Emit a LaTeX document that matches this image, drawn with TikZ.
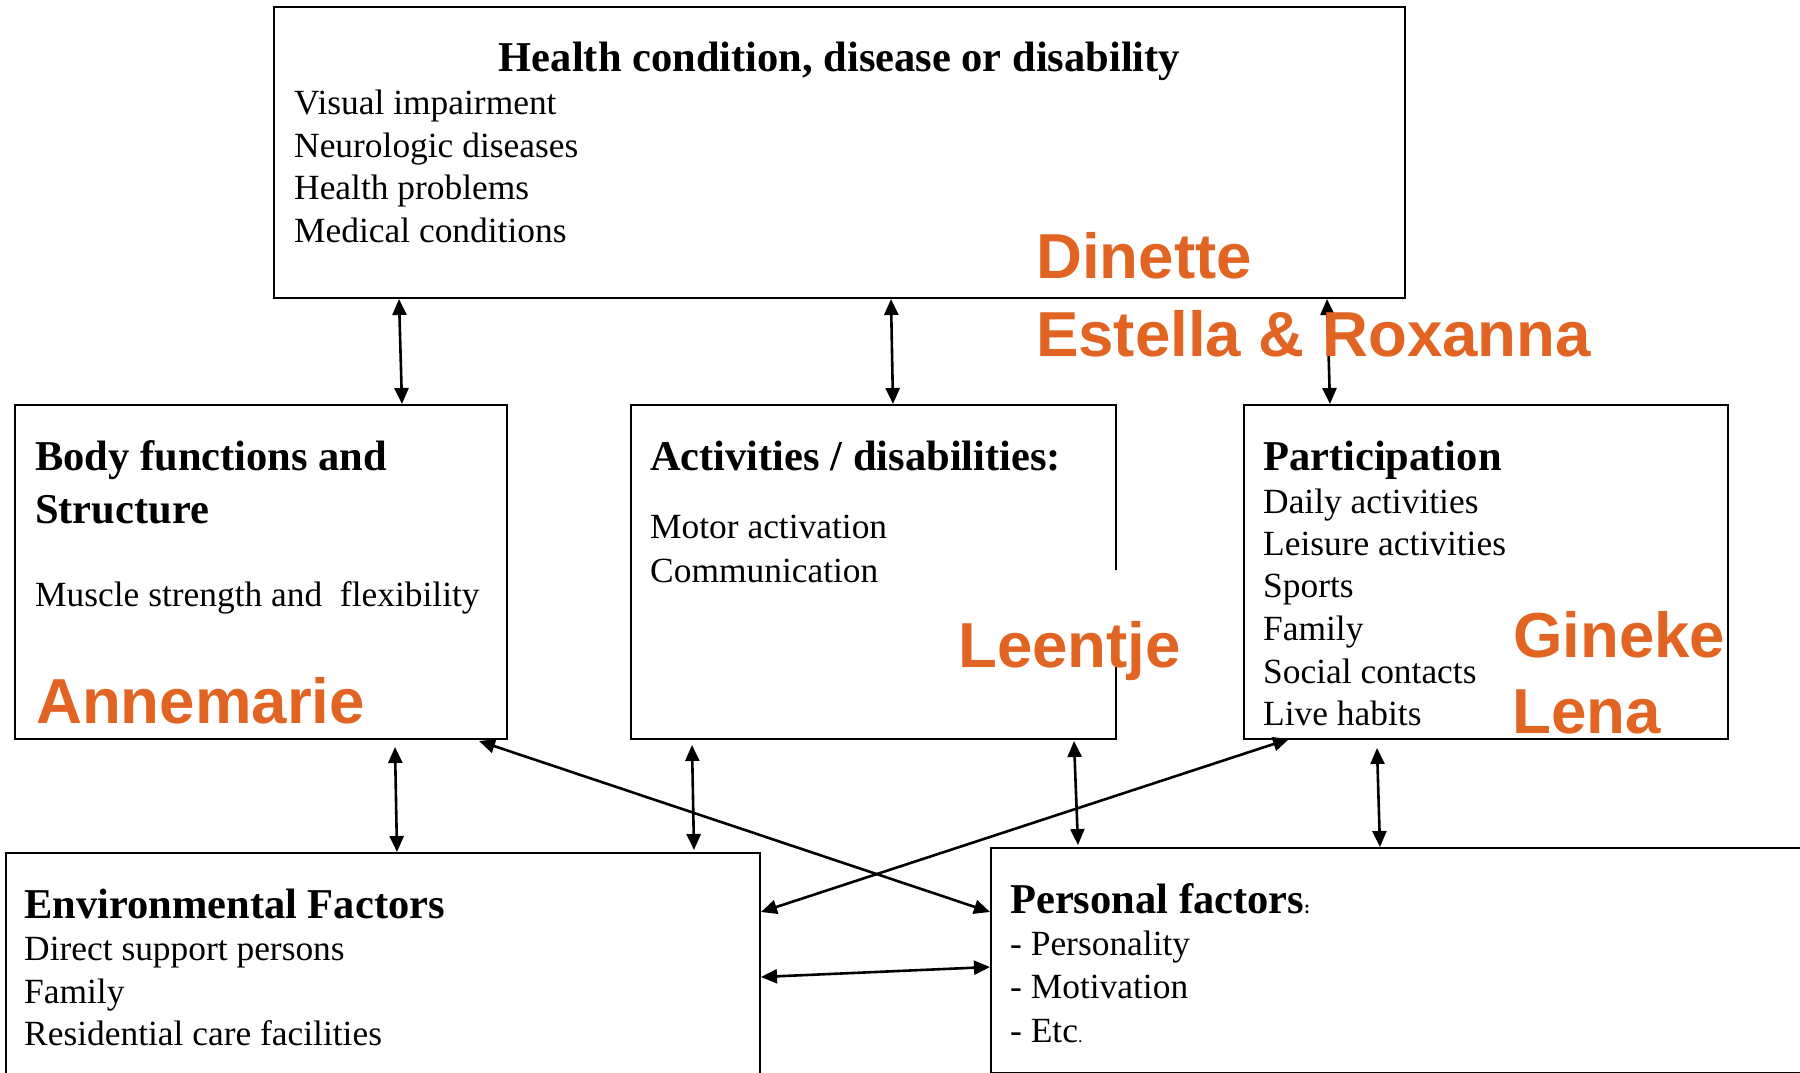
\documentclass[tikz,border=0pt]{standalone}
\usepackage{fontspec}
\setmainfont{Liberation Serif}
\newfontfamily\sansf{Liberation Sans}
\usetikzlibrary{arrows.meta}
\definecolor{orng}{RGB}{225,100,35}
\begin{document}
\begin{tikzpicture}[x=1pt,y=-1pt,
  >={Triangle[length=16pt,width=14pt]},
  box/.style={draw=black, line width=2pt, rectangle, inner sep=0pt, anchor=north west},
  biarr/.style={<->, line width=2.6pt},
  txt/.style={anchor=base west, inner sep=0pt, font=\fontsize{35.4}{42.5}\selectfont},
  ttl/.style={anchor=base west, inner sep=0pt, font=\fontsize{42.5}{51}\selectfont\bfseries},
  nm/.style={anchor=base west, inner sep=0pt, text=orng, font=\fontsize{63.6}{77}\selectfont\sansf\bfseries}]
\useasboundingbox (0,0) rectangle (1800,1073);

% boxes
\node[box, minimum width=1131pt, minimum height=291pt] (top) at (273,6) {};
\node[box, minimum width=492pt, minimum height=334pt] (body) at (14,404) {};
\node[box, minimum width=485pt, minimum height=334pt] (act) at (630,404) {};
\node[box, minimum width=484pt, minimum height=334pt] (part) at (1243,404) {};
\node[box, minimum width=754pt, minimum height=260pt] (env) at (5,852) {};
\node[box, minimum width=900pt, minimum height=225pt] (pers) at (990,847) {};

% connectors
\draw[biarr] ([xshift=126pt]top.south west) -- ([xshift=388pt]body.north west);
\draw[biarr] ([xshift=618pt]top.south west) -- ([xshift=263pt]act.north west);
\draw[biarr] ([xshift=1054pt]top.south west) -- ([xshift=87pt]part.north west);
\draw[biarr] ([xshift=381pt,yshift=-7pt]body.south west) -- ([xshift=392pt]env.north west);
\draw[biarr] ([xshift=62pt,yshift=-5pt]act.south west) -- ([xshift=689pt,yshift=2pt]env.north west);
\draw[biarr] ([xshift=-29pt,yshift=-1pt]body.south east) -- ([yshift=-65pt]pers.north west);
\draw[biarr] ([yshift=-60pt]env.north east) -- ([xshift=46pt,yshift=1pt]part.south west);
\draw[biarr] ([xshift=444pt,yshift=-1pt]act.south west) -- ([xshift=88pt,yshift=2pt]pers.north west);
\draw[biarr] ([xshift=134pt,yshift=-8pt]part.south west) -- ([xshift=390pt]pers.north west);
\draw[biarr] ([yshift=-125pt]env.north east) -- ([yshift=-120pt]pers.north west);

% top box texts
\node[anchor=base, inner sep=0pt, font=\fontsize{42.5}{51}\selectfont\bfseries] (ttop) at (839.5,72) {Health condition, disease or disability};
\node[txt] (t1) at (294,114) {Visual impairment};
\node[txt] (t2) at (294,157) {Neurologic diseases};
\node[txt] (t3) at (294,199) {Health problems};
\node[txt] (t4) at (294,242) {Medical conditions};
\node[nm] (dinette) at (1036,278) {Dinette};
\node[nm] (estella) at (1036,356) {Estella \& Roxanna};

% body box
\node[ttl] (b0) at (35,470) {Body functions and};
\node[ttl] (b1) at (35,523) {Structure};
\node[txt] (b2) at (35,606) {Muscle strength and \ flexibility};
\node[nm] (annemarie) at (36,723) {Annemarie};

% activities box
\node[ttl] (a0) at (650,470) {Activities / disabilities:};
\node[txt] (a1) at (650,538) {Motor activation};
\node[txt] (a2) at (650,582) {Communication};
\node[nm, fill=white, text height=97pt, text depth=0pt] (leentje) at (958,667) {Leentje};

% participation box
\node[ttl] (p0) at (1263,470) {Participation};
\node[txt] (p1) at (1263,513) {Daily activities};
\node[txt] (p2) at (1263,555) {Leisure activities};
\node[txt] (p3) at (1263,597) {Sports};
\node[txt] (p4) at (1263,640) {Family};
\node[txt] (p5) at (1263,683) {Social contacts};
\node[txt] (p6) at (1263,725) {Live habits};
\node[nm] (gineke) at (1513,657) {Gineke};
\node[nm] (lena) at (1512,733) {Lena};

% environmental box
\node[ttl] (e0) at (24,918) {Environmental Factors};
\node[txt] (e1) at (24,960) {Direct support persons};
\node[txt] (e2) at (24,1003) {Family};
\node[txt] (e3) at (24,1045) {Residential care facilities};

% personal box
\node[ttl] (f0) at (1010,913) {Personal factors{\fontsize{18}{20}\selectfont :}};
\node[txt] (f1) at (1010,955) {- Personality};
\node[txt] (f2) at (1010,998) {- Motivation};
\node[txt] (f3) at (1010,1042) {- Etc{\fontsize{18}{20}\selectfont .}};
\end{tikzpicture}
\end{document}
